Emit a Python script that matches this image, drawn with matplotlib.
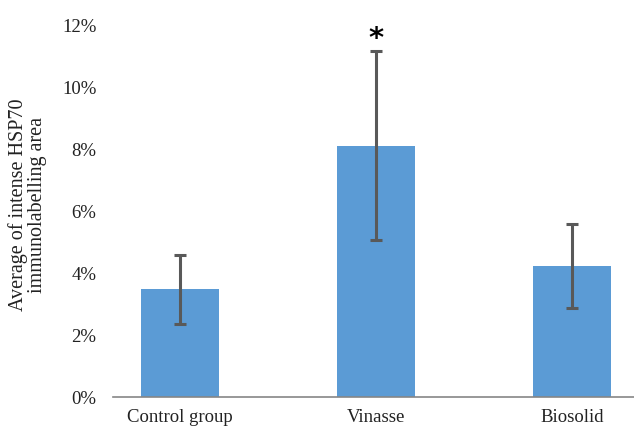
import matplotlib
matplotlib.use("Agg")
import matplotlib.pyplot as plt
from matplotlib.ticker import FuncFormatter

# HSP70 immunolabelling, mean percentage per group with SD
groups = ["Control group", "Vinasse", "Biosolid"]
means = [3.47, 8.10, 4.23]
errors = [1.10, 3.05, 1.35]
significant = [False, True, False]

plt.rcParams["font.family"] = ["Liberation Serif", "DejaVu Serif"]

fig = plt.figure(figsize=(6.34, 4.30), dpi=100)
# plot area: 0% sits at pixel row 397, 12% at row 25
ax = fig.add_axes([113 / 634, (430 - 397) / 430, 1 - 113 / 634, (397 - 25) / 430])

x = list(range(len(groups)))
ax.bar(x, means, width=0.4, color="#5B9BD5", zorder=2)
ax.errorbar(x, means, yerr=errors, fmt="none", ecolor="#595959",
            elinewidth=2.2, capsize=4, capthick=2.2, zorder=3)

for xi, m, e, s in zip(x, means, errors, significant):
    if s:
        ax.annotate("*", (xi, m + e), xytext=(0, -1), textcoords="offset points",
                    ha="center", va="bottom", fontsize=21, fontweight="bold",
                    family="DejaVu Sans")

ax.set_ylim(0, 12)
ax.set_yticks(range(0, 13, 2))
ax.yaxis.set_major_formatter(FuncFormatter(lambda v, p: f"{v:.0f}%"))
ax.set_xlim(-(180 - 113) / 196, (634 - 180) / 196)
ax.set_xticks(x)
ax.set_xticklabels(groups)

ax.tick_params(axis="both", length=0, labelsize=13.5, colors="#222222")
ax.tick_params(axis="y", pad=12)
ax.tick_params(axis="x", pad=9)

for side in ("top", "right", "left"):
    ax.spines[side].set_visible(False)
ax.spines["bottom"].set_color("#868686")
ax.spines["bottom"].set_linewidth(1.2)

fig.text(28 / 634, 1 - 205 / 430, "Average of intense HSP70\nimmunolabelling area",
         rotation=90, ha="center", va="center", fontsize=14.5,
         color="#222222", linespacing=1.0)

fig.savefig("out.png", dpi=100)
